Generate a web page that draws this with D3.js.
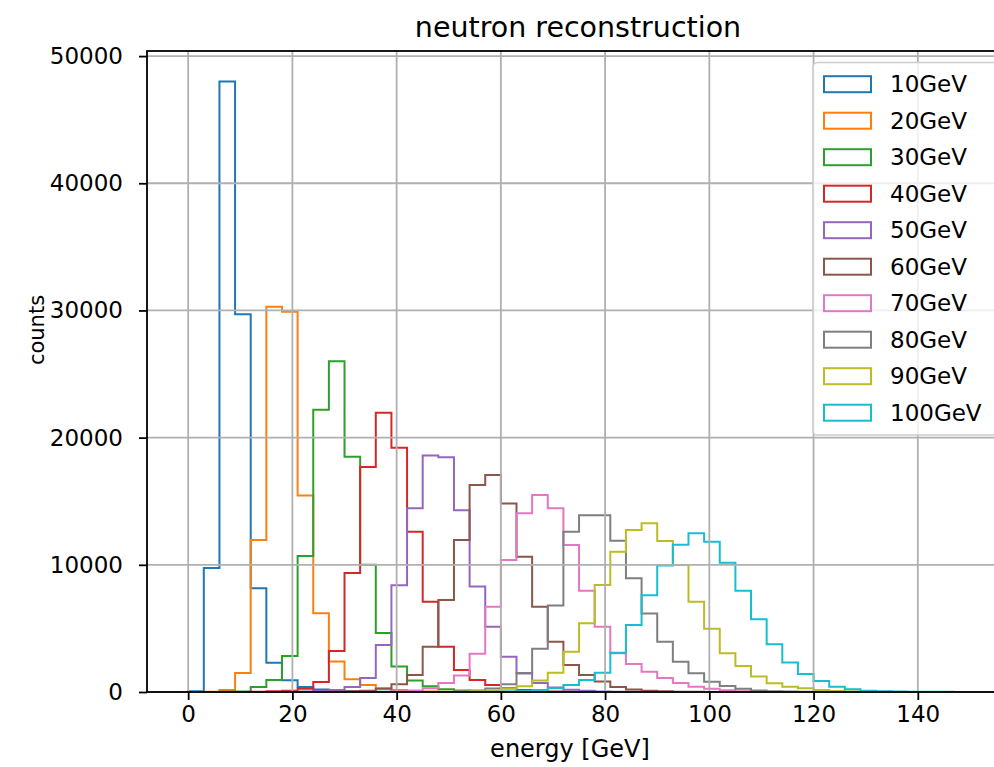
<!DOCTYPE html>
<html>
<head>
<meta charset="utf-8">
<script src="https://cdn.jsdelivr.net/npm/d3@7"></script>
<style>
  body { margin: 0; background: #fff; }
  text { font-family: "DejaVu Sans", sans-serif; fill: #000; }
</style>
</head>
<body>
<div id="chart"></div>
<script>

// histogram bins: 50 bins of 3 GeV from 0 to 150
var binStart = 0,
    binWidth = 3,
    nBins = 50;

var labels = ["10GeV", "20GeV", "30GeV", "40GeV", "50GeV", "60GeV", "70GeV", "80GeV", "90GeV", "100GeV"];
var colors = ["#1f77b4", "#ff7f0e", "#2ca02c", "#d62728", "#9467bd", "#8c564b", "#e377c2", "#7f7f7f", "#bcbd22", "#17becf"];

var e10 = [60,9750,48000,29700,8150,2300,930,400,200,110, 60,30,20,10,5,0,0,0,0,0,
           0,0,0,0,0,0,0,0,0,0, 0,0,0,0,0,0,0,0,0,0, 0,0,0,0,0,0,0,0,0,0];
var e20 = [0,20,150,1500,11950,30300,29900,15450,6200,2400, 1000,550,300,150,80,40,20,10,0,0,
           0,0,0,0,0,0,0,0,0,0, 0,0,0,0,0,0,0,0,0,0, 0,0,0,0,0,0,0,0,0,0];
var e30 = [0,0,10,30,390,940,2830,10700,22200,26000, 18500,10000,4640,2000,900,450,220,110,60,30,
           15,0,0,0,0,0,0,0,0,0, 0,0,0,0,0,0,0,0,0,0, 0,0,0,0,0,0,0,0,0,0];
var e40 = [0,0,0,0,10,50,100,250,790,3220, 9350,17700,21950,19200,12600,7100,3560,1730,940,550,
           300,150,80,40,20,10,0,0,0,0, 0,0,0,0,0,0,0,0,0,0, 0,0,0,0,0,0,0,0,0,0];
var e50 = [0,0,0,0,0,0,10,30,70,150, 400,1100,3700,8400,14450,18600,18450,14300,8300,5130,
           2780,1460,700,350,180,90,40,20,10,0, 0,0,0,0,0,0,0,0,0,0, 0,0,0,0,0,0,0,0,0,0];
var e60 = [0,0,0,0,0,0,0,0,0,20, 50,100,250,600,1340,3560,7230,11950,16280,17060,
           14830,10640,6710,3960,2120,1340,820,400,200,100, 50,20,10,0,0,0,0,0,0,0, 0,0,0,0,0,0,0,0,0,0];
var e70 = [0,0,0,0,0,0,0,0,0,0, 0,0,0,50,120,300,700,1300,3000,6700,
           10380,14050,15490,14440,11560,7970,5130,3050,2200,1600, 1100,700,420,250,130,60,30,15,0,0,
           0,0,0,0,0,0,0,0,0,0];
var e80 = [0,0,0,0,0,0,0,0,0,0, 0,0,0,0,0,0,0,50,120,280,
           600,1500,3400,6800,12600,13900,13900,11900,8940,6180, 3960,2380,1470,810,470,250,120,60,30,15,
           0,0,0,0,0,0,0,0,0,0];
var e90 = [0,0,0,0,0,0,0,0,0,0, 0,0,0,0,0,0,0,20,50,100,
           250,450,900,1520,3170,5400,8410,11030,12740,13260, 11870,9990,7100,4980,3040,2050,1210,680,420,290,
           150,80,40,20,10,0,0,0,0,0];
var e100 = [0,0,0,0,0,0,0,0,0,0, 0,0,0,0,0,0,0,0,0,20,
            40,80,150,300,550,940,1520,3090,5270,7600, 9950,11580,12480,11820,10170,7970,5720,3750,2310,1420,
            870,420,210,100,60,40,25,15,10,5];

var series = [e10, e20, e30, e40, e50, e60, e70, e80, e90, e100];

var xTicks = [0, 20, 40, 60, 80, 100, 120, 140];
var yTicks = [0, 10000, 20000, 30000, 40000, 50000];

var W = 994, H = 767;
var margin = {top: 51, left: 147},
    width = 862,
    height = 641;

var fontSize = 23;

var svg = d3.select("#chart").append("svg")
    .attr("width", W)
    .attr("height", H);

var x = d3.scaleLinear()
    .domain([-7.9, 157.5])
    .range([margin.left, margin.left + width]);

var y = d3.scaleLinear()
    .domain([0, 50400])
    .range([margin.top + height, margin.top]);

svg.append("clipPath")
    .attr("id", "plotclip")
  .append("rect")
    .attr("x", margin.left)
    .attr("y", margin.top - 2)
    .attr("width", width)
    .attr("height", height + 4);

var plot = svg.append("g").attr("clip-path", "url(#plotclip)");

// step outline of one histogram
function stepPoints(vals) {
    var pts = [[binStart, 0]];
    vals.forEach(function(v, i) {
        pts.push([binStart + i * binWidth, v]);
        pts.push([binStart + (i + 1) * binWidth, v]);
    });
    pts.push([binStart + nBins * binWidth, 0]);
    return pts;
}

var line = d3.line()
    .x(function(d) { return x(d[0]); })
    .y(function(d) { return y(d[1]); });

plot.selectAll(".hist")
    .data(series)
    .enter().append("path")
    .attr("class", "hist")
    .attr("d", function(d) { return line(stepPoints(d)); })
    .attr("fill", "none")
    .attr("stroke", function(d, i) { return colors[i]; })
    .attr("stroke-width", 2)
    .attr("stroke-linejoin", "miter");

// grid
var grid = svg.append("g").attr("clip-path", "url(#plotclip)");

grid.selectAll(".vgrid")
    .data(xTicks)
    .enter().append("line")
    .attr("x1", function(d) { return x(d); })
    .attr("x2", function(d) { return x(d); })
    .attr("y1", margin.top)
    .attr("y2", margin.top + height)
    .attr("stroke", "#b0b0b0")
    .attr("stroke-width", 1.8);

grid.selectAll(".hgrid")
    .data(yTicks)
    .enter().append("line")
    .attr("x1", margin.left)
    .attr("x2", margin.left + width)
    .attr("y1", function(d) { return y(d); })
    .attr("y2", function(d) { return y(d); })
    .attr("stroke", "#b0b0b0")
    .attr("stroke-width", 1.8);

// axes
var xAxis = d3.axisBottom(x)
    .tickValues(xTicks)
    .tickSize(8)
    .tickPadding(6)
    .tickFormat(d3.format("d"));

var yAxis = d3.axisLeft(y)
    .tickValues(yTicks)
    .tickSize(8)
    .tickPadding(16)
    .tickFormat(d3.format("d"));

var gx = svg.append("g")
    .attr("transform", "translate(0," + (margin.top + height) + ")")
    .call(xAxis);

var gy = svg.append("g")
    .attr("transform", "translate(" + margin.left + ",0)")
    .call(yAxis);

[gx, gy].forEach(function(g) {
    g.select(".domain").remove();
    g.selectAll(".tick line").attr("stroke", "#000").attr("stroke-width", 1.8);
    g.selectAll(".tick text")
        .style("font-family", "DejaVu Sans")
        .style("font-size", fontSize + "px")
        .attr("fill", "#000");
});

// frame
svg.append("rect")
    .attr("x", margin.left)
    .attr("y", margin.top)
    .attr("width", width)
    .attr("height", height)
    .attr("fill", "none")
    .attr("stroke", "#000")
    .attr("stroke-width", 1.8);

// title and axis labels
svg.append("text")
    .attr("x", margin.left + width / 2)
    .attr("y", 37)
    .attr("text-anchor", "middle")
    .style("font-size", "28.5px")
    .text("neutron reconstruction");

svg.append("text")
    .attr("x", 570)
    .attr("y", 757)
    .attr("text-anchor", "middle")
    .style("font-size", "24px")
    .text("energy [GeV]");

svg.append("text")
    .attr("transform", "translate(44,330) rotate(-90)")
    .attr("text-anchor", "middle")
    .style("font-size", "21px")
    .text("counts");

// legend
var lg = svg.append("g").attr("transform", "translate(813,62.5)");

lg.append("rect")
    .attr("width", 185)
    .attr("height", 372.5)
    .attr("rx", 4.6)
    .attr("fill", "#fff")
    .attr("fill-opacity", 0.8)
    .attr("stroke", "#cccccc")
    .attr("stroke-width", 1.5);

var item = lg.selectAll(".item")
    .data(labels)
    .enter().append("g")
    .attr("class", "item")
    .attr("transform", function(d, i) { return "translate(0," + (21.7 + i * 36.5) + ")"; });

item.append("rect")
    .attr("x", 11)
    .attr("y", -8)
    .attr("width", 47)
    .attr("height", 16)
    .attr("fill", "none")
    .attr("stroke", function(d, i) { return colors[i]; })
    .attr("stroke-width", 2);

item.append("text")
    .attr("x", 77)
    .attr("dy", "0.36em")
    .style("font-size", fontSize + "px")
    .text(function(d) { return d; });

</script>
</body>
</html>
